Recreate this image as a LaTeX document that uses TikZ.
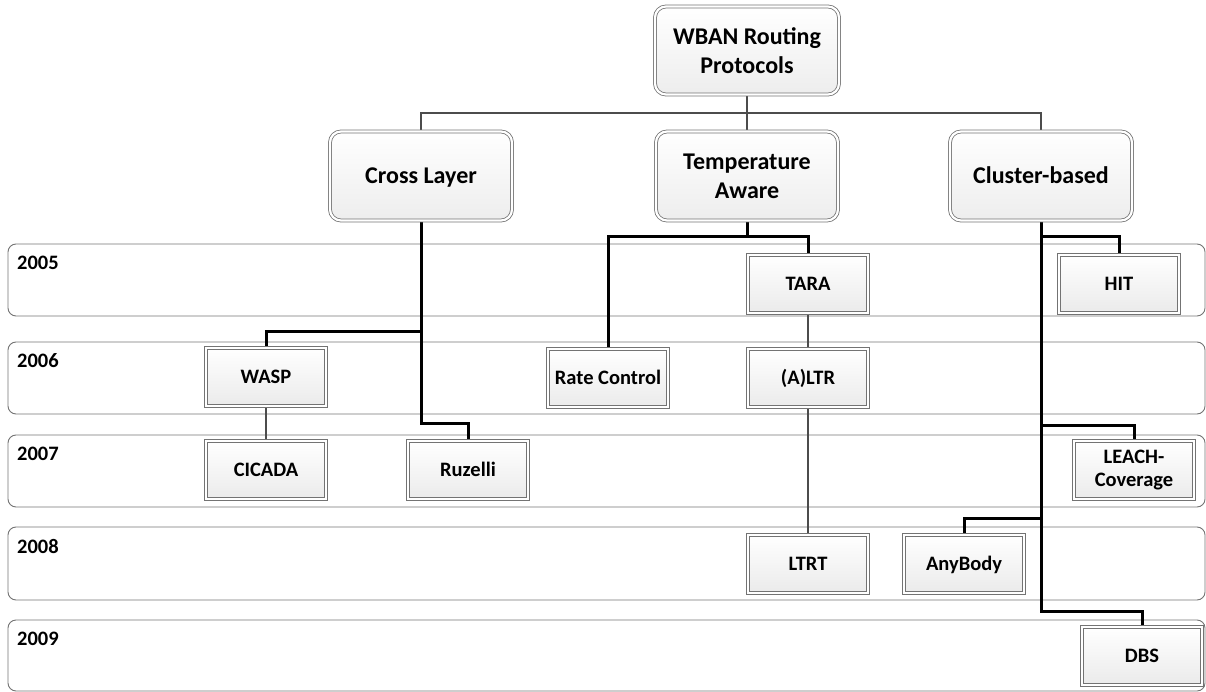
\documentclass[tikz,border=0pt]{standalone}
\usepackage{fontspec}
\setmainfont{Carlito}
\usetikzlibrary{calc}
\pgfdeclarelayer{background}
\pgfsetlayers{background,main}
\begin{document}
\begin{tikzpicture}[x=1pt,y=-1pt,
  band/.style={draw=black!55,line width=0.9pt,rounded corners=8pt},
  yearlbl/.style={anchor=west,font=\fontsize{20.5}{22}\selectfont\bfseries,inner sep=0pt},
  catbox/.style={draw=black!55,line width=0.8pt,double=white,double distance=2.2pt,
    rounded corners=11pt,top color=white,bottom color=black!7,
    minimum width=182pt,minimum height=89pt,inner sep=2pt,align=center,
    font=\fontsize{24}{29}\selectfont\bfseries},
  onecat/.style={text height=19.5pt,text depth=4pt},
  protobox/.style={draw=black!55,line width=0.8pt,double=white,double distance=2.2pt,
    top color=white,bottom color=black!8,
    minimum width=120pt,minimum height=58pt,inner sep=1pt,align=center,
    font=\fontsize{20.5}{23}\selectfont\bfseries},
  oneline/.style={text height=17pt,text depth=3.8pt},
  thinlink/.style={draw=black!70,line width=1.4pt},
  thicklink/.style={draw=black,line width=3pt},
]
\useasboundingbox (0,0) rectangle (1206,692);
\node[yearlbl] (y2005) at (17,263) {2005};
\node[yearlbl] (y2006) at (17,361) {2006};
\node[yearlbl] (y2007) at (17,454) {2007};
\node[yearlbl] (y2008) at (17,546) {2008};
\node[yearlbl] (y2009) at (17,639) {2009};

% junction levels
\coordinate (jBus) at (0,113);
\coordinate (jT) at (0,237);
\coordinate (jC1) at (0,331);
\coordinate (jC2) at (0,423);
\coordinate (jK2) at (0,425);
\coordinate (jK3) at (0,518);
\coordinate (jK4) at (0,611);

% nodes
\node[catbox,minimum width=184pt,minimum height=88pt] (root) at (747,50.5) {WBAN Routing\\Protocols};
\node[catbox,onecat] (cross) at (421,176) {Cross Layer};
\node[catbox] (temp) at (747,176) {Temperature\\Aware};
\node[catbox,onecat] (cluster) at (1041,176) {Cluster-based};

\node[protobox,oneline] (tara) at (808,284) {TARA};
\node[protobox,oneline] (hit) at (1119,284) {HIT};
\node[protobox,oneline] (wasp) at (266,377) {WASP};
\node[protobox,oneline] (ratec) at (608,378) {Rate Control};
\node[protobox,oneline] (altr) at (808,378) {(A)LTR};
\node[protobox,oneline] (cicada) at (266,470) {CICADA};
\node[protobox,oneline] (ruzelli) at (468,470) {Ruzelli};
\node[protobox,font=\fontsize{20.5}{23}\selectfont\bfseries] (leach) at (1134,470) {LEACH-\\Coverage};
\node[protobox,oneline] (ltrt) at (808,564) {LTRT};
\node[protobox,oneline] (anybody) at (964,564) {AnyBody};
\node[protobox,oneline] (dbs) at (1142,656) {DBS};

\begin{pgfonlayer}{background}
% year bands
\draw[band] (8,244) rectangle (1205,316);
\draw[band] (8,342) rectangle (1205,414);
\draw[band] (8,435) rectangle (1205,507);
\draw[band] (8,527) rectangle (1205,600);
\draw[band] (8,620) rectangle (1205,691);

% root to categories
\draw[thinlink] (root.south) -- (temp.north);
\draw[thinlink] (cross.north) |- (root.south |- jBus) -| (cluster.north);

% Cross Layer
\draw[thicklink] (cross.south) -- (cross.south |- jC2) -| (ruzelli.north);
\draw[thicklink] (cross.south |- jC1) -| (wasp.north);
\draw[thinlink] (wasp.south) -- (cicada.north);

% Temperature Aware
\draw[thicklink] (temp.south) -- (temp.south |- jT);
\draw[thicklink] (ratec.north) |- (tara.north |- jT) -- (tara.north);
\draw[thinlink] (tara.south) -- (altr.north);
\draw[thinlink] (altr.south) -- (ltrt.north);

% Cluster-based
\draw[thicklink] (cluster.south) -- (cluster.south |- jK4) -| (dbs.north);
\draw[thicklink] (cluster.south |- jT) -| (hit.north);
\draw[thicklink] (cluster.south |- jK2) -| (leach.north);
\draw[thicklink] (cluster.south |- jK3) -| (anybody.north);
\end{pgfonlayer}
\end{tikzpicture}
\end{document}
